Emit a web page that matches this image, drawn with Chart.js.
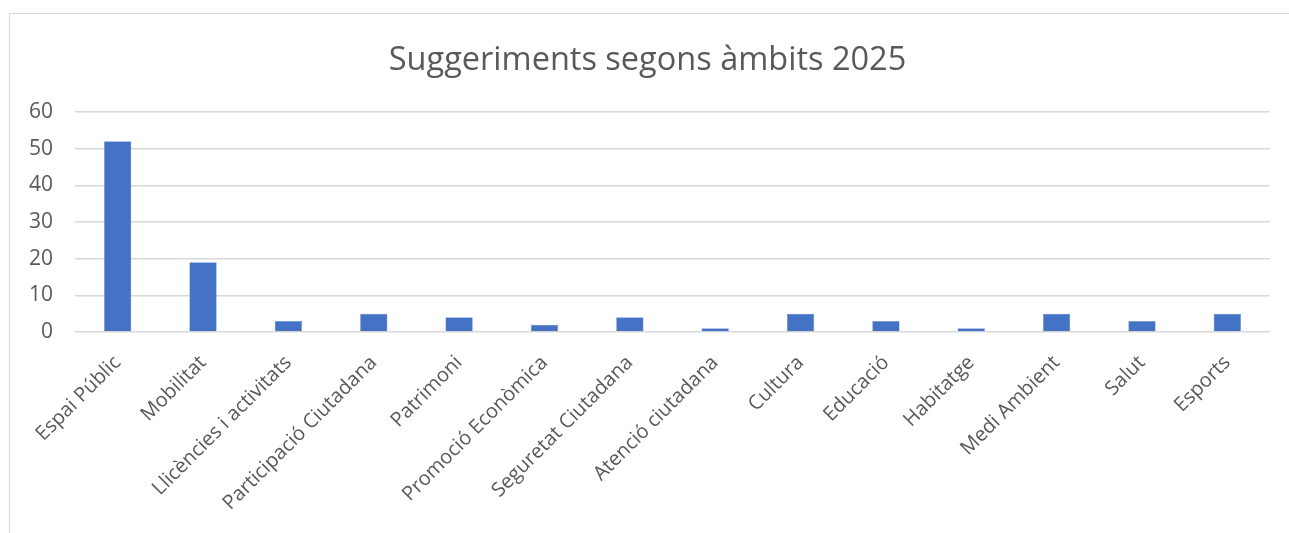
<!DOCTYPE html>
<html>
<head>
<meta charset="utf-8">
<script src="https://cdn.jsdelivr.net/npm/chart.js@4.4.1/dist/chart.umd.min.js"></script>
<style>
  html, body { margin: 0; padding: 0; background: #fff; }
  #frame { position: absolute; left: 9px; top: 13px; width: 1290px; height: 530px;
           border-top: 1px solid #d9d9d9; border-left: 1px solid #d9d9d9; }
  #wrap { position: absolute; left: 0; top: 0; width: 1289px; height: 533px; }
</style>
</head>
<body>
<div id="frame"></div>
<div id="wrap"><canvas id="chart" width="1289" height="533"></canvas></div>
<script>
// Dades del gràfic
const TITLE = "Suggeriments segons àmbits 2025";
const CATEGORIES = ["Espai Públic", "Mobilitat", "Llicències i activitats", "Participació Ciutadana",
  "Patrimoni", "Promoció Econòmica", "Seguretat Ciutadana", "Atenció ciutadana", "Cultura",
  "Educació", "Habitatge", "Medi Ambient", "Salut", "Esports"];
const VALUES = [52, 19, 3, 5, 4, 2, 4, 1, 5, 3, 1, 5, 3, 5];
const Y_MIN = 0, Y_MAX = 60, Y_STEP = 10;

const TEXT_COLOR = "#595959";
const FONT = "'Open Sans', 'Noto Sans', sans-serif";

const ctx = document.getElementById("chart").getContext("2d");
new Chart(ctx, {
  type: 'bar',
  data: {
    labels: CATEGORIES,
    datasets: [{
      data: VALUES,
      backgroundColor: "#4472C4",
      borderColor: "#6f93d4",
      borderWidth: 0.5,
      categoryPercentage: 1,
      barPercentage: 0.32
    }]
  },
  options: {
    responsive: false,
    animation: false,
    layout: { padding: { left: 25, right: 19, top: 0, bottom: 0 } },
    plugins: {
      legend: { display: false },
      tooltip: { enabled: false },
      title: {
        display: true,
        text: TITLE,
        color: TEXT_COLOR,
        font: { family: FONT, size: 32.5, weight: 'normal' },
        padding: { top: 41, bottom: 32 }
      }
    },
    scales: {
      x: {
        grid: { display: false },
        border: { display: false },
        ticks: {
          color: TEXT_COLOR,
          font: { family: FONT, size: 20 },
          minRotation: 45,
          maxRotation: 45,
          autoSkip: false,
          padding: 11
        },
        afterFit: s => { s.height = 201; }
      },
      y: {
        min: Y_MIN,
        max: Y_MAX,
        grid: { color: "#d9d9d9", lineWidth: 1.5, drawTicks: false },
        border: { display: false },
        ticks: {
          stepSize: Y_STEP,
          color: TEXT_COLOR,
          font: { family: FONT, size: 21 },
          padding: 22
        },
        afterFit: s => { s.width = 50; }
      }
    }
  }
});
</script>
</body>
</html>
